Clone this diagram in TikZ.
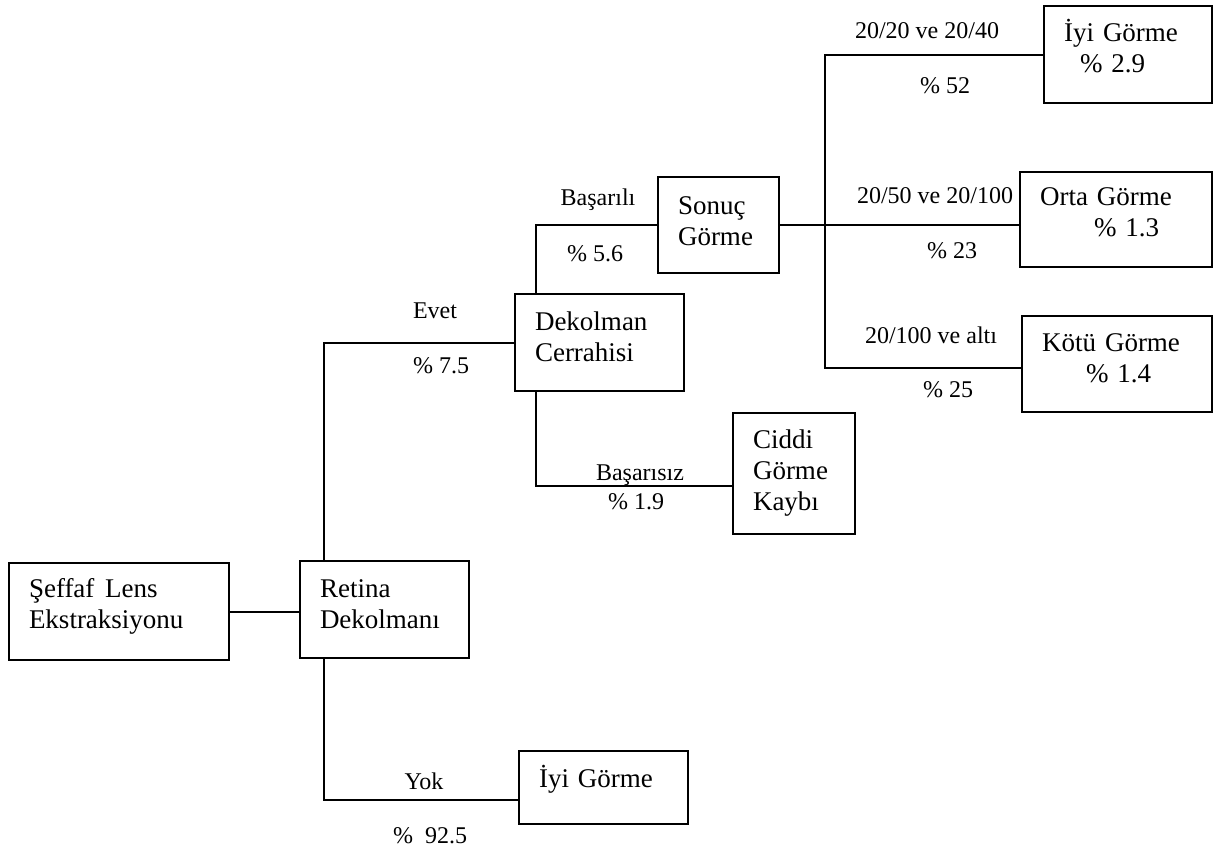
\documentclass[tikz,border=0pt]{standalone}
\usepackage{fontspec}
\setmainfont{Liberation Serif}
\usetikzlibrary{positioning, calc}
\newcommand{\altbosluk}[1]{\rule[-#1]{0pt}{0pt}}

\begin{document}
\begin{tikzpicture}[
  x=0.5pt, y=-0.5pt, line width=1pt,
  kutu/.style={draw, line width=1.3pt, align=left, inner xsep=10pt, inner ysep=0pt, font=\fontsize{13.5}{15.5}\selectfont},
  etiket/.style={inner sep=0pt, font=\fontsize{12}{14}\selectfont}
]
  \useasboundingbox (0,0) rectangle (1214,847);

  \node[kutu, minimum width=110pt, text width=90pt, minimum height=48.5pt] (seffaf) at (119,611.5) {Şeffaf\hspace{0.4em}Lens\\Ekstraksiyonu\altbosluk{8pt}};
  \node[kutu, minimum width=84.5pt, text width=64.5pt, minimum height=48.5pt] (retina) at (384.5,609.5) {Retina\\Dekolmanı\altbosluk{5pt}};
  \node[kutu, minimum width=84.5pt, text width=64.5pt, minimum height=48.5pt] (dekolman) at (599.5,342.5) {Dekolman\\Cerrahisi\altbosluk{6pt}};
  \node[kutu, minimum width=60.5pt, text width=40.5pt, minimum height=48pt] (sonuc) at (718.5,225) {Sonuç\\Görme\altbosluk{4pt}};
  \node[kutu, minimum width=61pt, text width=41pt, minimum height=60.5pt] (ciddi) at (794,473.5) {Ciddi\\Görme\\Kaybı};
  \node[kutu, minimum width=84pt, text width=64pt, minimum height=48.5pt] (iyi1) at (1128,54.5) {İyi Görme\\\hspace*{8pt}\% 2.9\altbosluk{9pt}};
  \node[kutu, minimum width=96pt, text width=76pt, minimum height=47.5pt] (orta) at (1116,219.5) {Orta Görme\\\hspace*{27pt}\% 1.3\altbosluk{7pt}};
  \node[kutu, minimum width=95pt, text width=75pt, minimum height=48pt] (kotu) at (1117,364) {Kötü Görme\\\hspace*{22pt}\% 1.4\altbosluk{6pt}};
  \node[kutu, minimum width=84.5pt, text width=64.5pt, minimum height=36.5pt] (iyi2) at (603.5,787.5) {İyi Görme\altbosluk{11pt}};

  \coordinate (catal) at (825,224);
  \draw (seffaf.east) -- (seffaf.east -| retina.west);
  \draw ([shift={(25,0)}]retina.north west) |- (dekolman.west);
  \draw ([shift={(25,0)}]retina.south west) |- ([shift={(0,12.5)}]iyi2.west);
  \draw ([shift={(22,0)}]dekolman.north west) |- (sonuc.west);
  \draw ([shift={(22,0)}]dekolman.south west) |- ([shift={(0,12.5)}]ciddi.west);
  \draw (sonuc.east) -- (sonuc.east -| orta.west);
  \draw (iyi1.west) -| (catal) |- ([shift={(0,4)}]kotu.west);

  \node[etiket] (evet) at (435,311) {Evet};
  \node[etiket] (p75) at (441,366) {\% 7.5};
  \node[etiket] (basarili) at (598,200) {Başarılı};
  \node[etiket] (p56) at (595,254) {\% 5.6};
  \node[etiket] (basarisiz) at (640,475) {Başarısız};
  \node[etiket] (p19) at (636,502) {\% 1.9};
  \node[etiket] (yok) at (424,781) {Yok};
  \node[etiket] (p925) at (430,836) {\% \ 92.5};
  \node[etiket] (l2040) at (927,31) {20/20 ve 20/40};
  \node[etiket] (p52) at (945,86) {\% 52};
  \node[etiket] (l50100) at (935,196) {20/50 ve 20/100};
  \node[etiket] (p23) at (952,251) {\% 23};
  \node[etiket] (lalti) at (931,335) {20/100 ve altı};
  \node[etiket] (p25) at (948,390) {\% 25};
\end{tikzpicture}
\end{document}
